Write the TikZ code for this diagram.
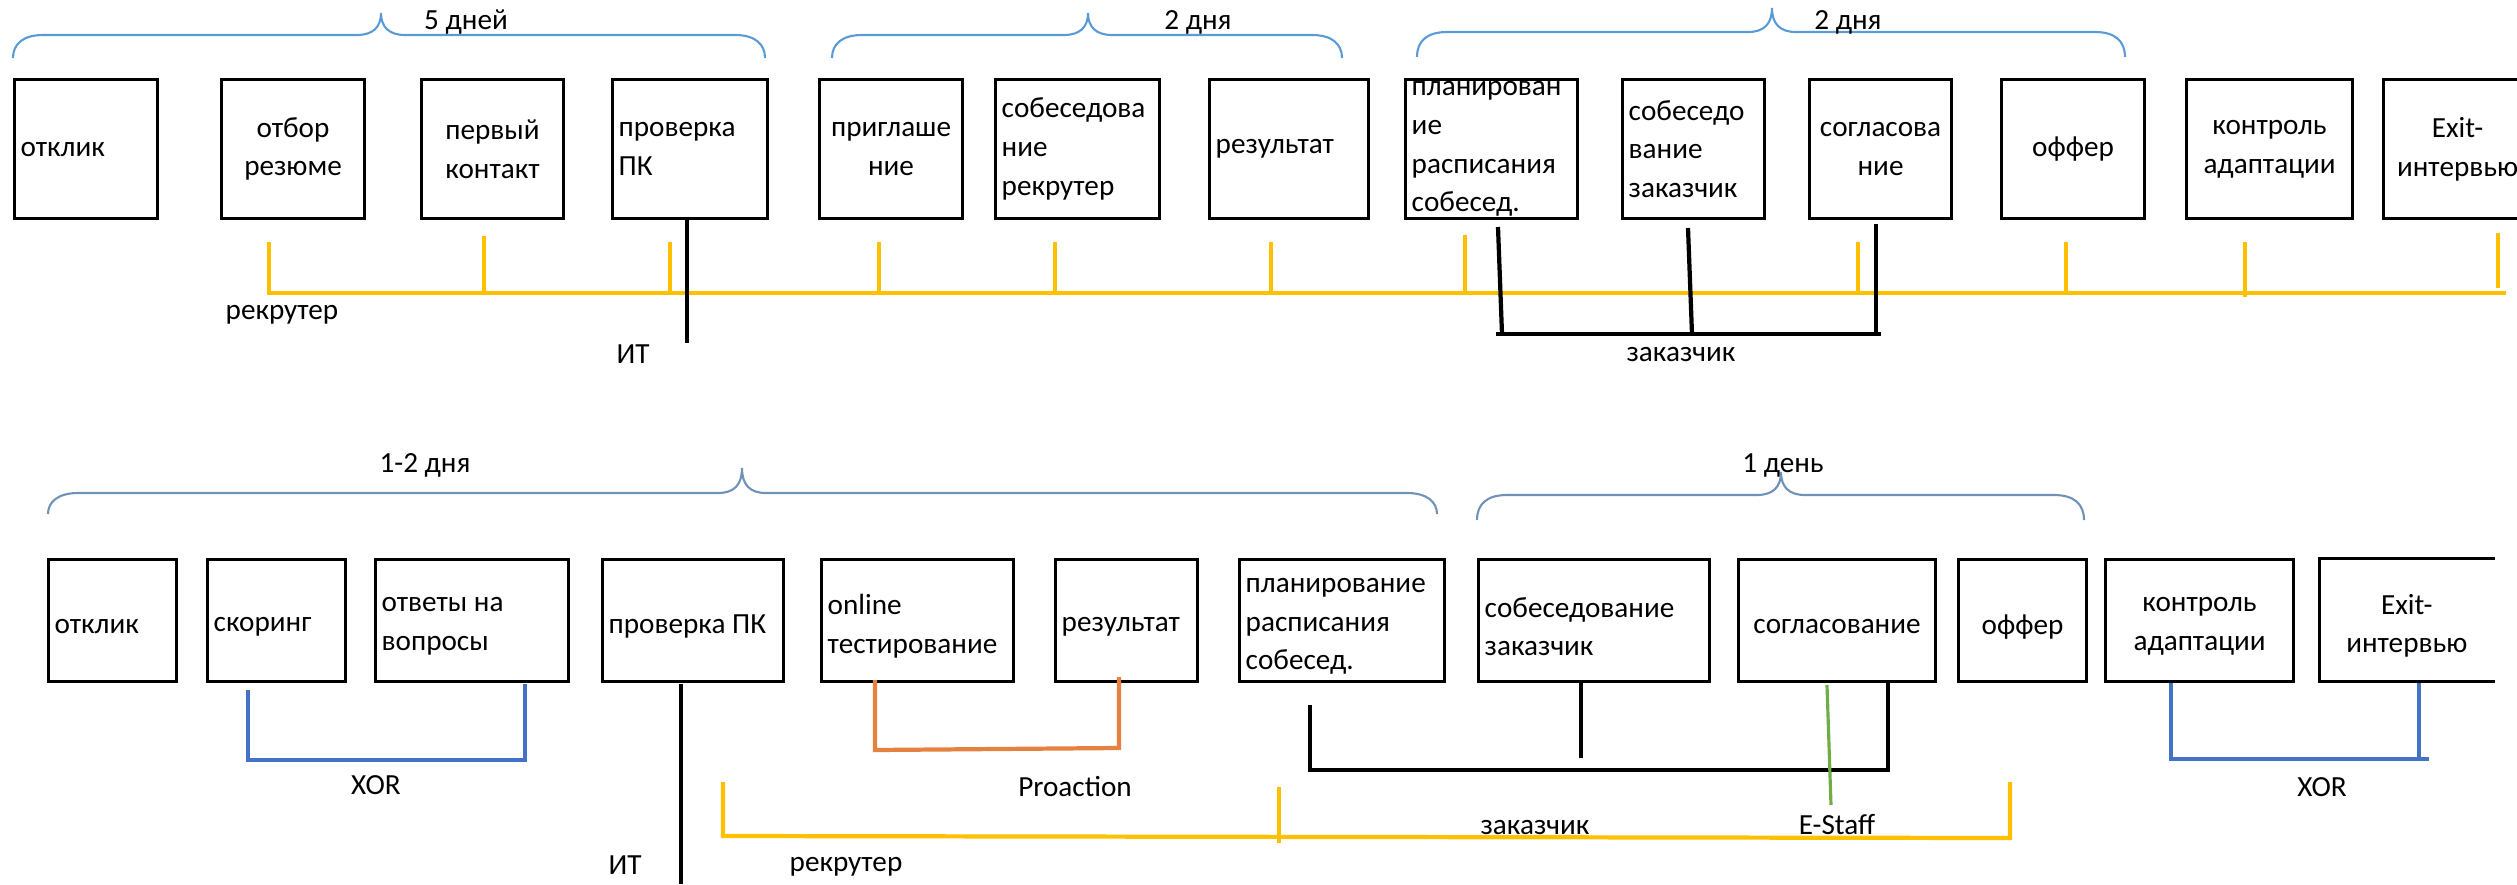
\documentclass[tikz,border=0pt]{standalone}
\usepackage{fontspec}
\setmainfont{Carlito}
\definecolor{gold}{HTML}{FFC000}
\definecolor{bracetop}{HTML}{5B9BD5}
\definecolor{bracebot}{HTML}{7092B8}
\definecolor{xorblue}{HTML}{4472C4}
\definecolor{orng}{HTML}{E5823F}
\definecolor{grn}{HTML}{70AD47}
\tikzset{
  boxst/.style={draw=black, line width=0.85pt, anchor=north west, inner sep=0pt},
  boxnod/.style={anchor=north west, inner sep=0pt},
  boxline/.style={draw=black, line width=0.85pt},
  txt/.style={font=\fontsize{8.3}{11}\selectfont, inner sep=0pt},
  tsh/.style={yshift=0cm},
  brtop/.style={draw=bracetop, line width=0.6pt},
  brbot/.style={draw=bracebot, line width=0.6pt},
  yel/.style={draw=gold, line width=1.2pt},
  blk/.style={draw=black, line width=1.2pt},
  xorl/.style={draw=xorblue, line width=1.2pt},
  orl/.style={draw=orng, line width=1.2pt},
  grl/.style={draw=grn, line width=0.9pt},
}
\newcommand\boxl[6]{%
  \node[boxst, minimum width=#4cm, minimum height=#5cm] (#1) at (#2,#3) {};
  \node[txt, tsh, anchor=west, align=left] (#1t) at ([xshift=0.07cm]#1.west) {#6};}
\newcommand\boxc[6]{%
  \node[boxst, minimum width=#4cm, minimum height=#5cm] (#1) at (#2,#3) {};
  \node[txt, tsh, align=center] (#1t) at (#1.center) {#6};}
% style, x1, x2, tip x, ytop, yline, yend
\newcommand\brc[7]{%
  \draw[#1] (#2,#7) .. controls (#2,#6+9) and (#2+10,#6) .. (#2+30,#6)
    -- (#4-24,#6) .. controls (#4-8,#6) and (#4,#6-8) .. (#4,#5)
    .. controls (#4,#6-8) and (#4+8,#6) .. (#4+24,#6)
    -- (#3-30,#6) .. controls (#3-10,#6) and (#3,#6+9) .. (#3,#7);}
\begin{document}
\begin{tikzpicture}[x=0.01cm, y=-0.01cm]
\useasboundingbox (0,0) rectangle (2517,884);
\clip (0,0) rectangle (2517,884);

% ---------------- top row ----------------
\brc{brtop}{13}{765}{381}{13}{35}{58}
\brc{brtop}{832}{1342}{1088}{13}{35}{58}
\brc{brtop}{1417}{2125}{1772}{8}{32}{57}
\node[txt] (d1) at (466,22) {5 дней};
\node[txt] (d2) at (1198,22) {2 дня};
\node[txt] (d3) at (1848,22) {2 дня};

\boxl{a1}{13}{78}{1.43}{1.39}{отклик}
\boxc{a2}{220}{78}{1.43}{1.39}{отбор\\резюме}
\boxc{a3}{420}{78}{1.42}{1.39}{первый\\контакт}
\boxl{a4}{611}{78}{1.55}{1.39}{проверка\\ПК}
\boxc{a5}{818}{78}{1.43}{1.39}{приглаше\\ние}
\boxl{a6}{994}{78}{1.64}{1.39}{собеседова\\ние\\рекрутер}
\boxl{a7}{1208}{78}{1.59}{1.39}{результат}
\boxl{a8}{1404}{78}{1.72}{1.39}{планирован\\ие\\расписания\\собесед.}
\boxl{a9}{1621}{78}{1.42}{1.39}{собеседо\\вание\\заказчик}
\boxc{a10}{1808}{78}{1.42}{1.39}{согласова\\ние}
\boxc{a11}{2000}{78}{1.43}{1.39}{оффер}
\boxc{a12}{2185}{78}{1.66}{1.39}{контроль\\адаптации}
\boxc{a13}{2382}{78}{1.48}{1.39}{Exit-\\интервью}

% recruiter line (top)
\draw[yel] (269,242) -- (269,293) -- (2506,293);
\foreach \xx/\yy in {484/236, 670/242, 879/242, 1055/242, 1271/242, 1465/235, 1858/242, 2066/242}
  \draw[yel] (\xx,\yy) -- (\xx,293);
\draw[yel] (2245,242) -- (2245,297);
\draw[yel] (2498,233) -- (2498,288);
\node[txt] (r1) at (282,315) {рекрутер};
% IT (top)
\draw[blk] (687,220) -- (687,343);
\node[txt] (it1) at (633,354) {ИТ};
% customer (top)
\draw[blk] (1498,227) -- (1502,334);
\draw[blk] (1688,228) -- (1692,334);
\draw[blk] (1876,224) -- (1876,334);
\draw[blk] (1496,334) -- (1881,334);
\node[txt] (z1) at (1681,355) {заказчик};

% ---------------- bottom row ----------------
\brc{brbot}{48}{1437}{742}{468}{493}{514}
\brc{brbot}{1477}{2084}{1781}{472}{495}{520}
\node[txt] (d4) at (425,465) {1-2 дня};
\node[txt] (d5) at (1783,465) {1 день};

\tikzset{tsh/.style={yshift=-0.06cm}}
\boxl{b1}{47}{558}{1.28}{1.22}{отклик}
\boxl{b2}{206}{558}{1.38}{1.22}{скоринг}
\boxl{b3}{374}{558}{1.93}{1.22}{ответы на\\вопросы}
\boxl{b4}{601}{558}{1.81}{1.22}{проверка ПК}
\boxl{b5}{820}{558}{1.92}{1.22}{online\\тестирование}
\boxl{b6}{1054}{558}{1.42}{1.22}{результат}
\boxl{b7}{1238}{558}{2.05}{1.22}{планирование\\расписания\\собесед.}
\boxl{b8}{1477}{558}{2.31}{1.22}{собеседование\\заказчик}
\boxc{b9}{1737}{558}{1.97}{1.22}{согласование}
\boxc{b10}{1957}{558}{1.28}{1.22}{оффер}
\boxc{b11}{2104}{558}{1.88}{1.22}{контроль\\адаптации}
\node[boxnod, minimum width=1.74cm, minimum height=1.22cm] (b12) at (2319,558) {};
\draw[boxline] (b12.north east) -- (b12.north west) -- (b12.south west) -- (b12.south east);
\node[txt, tsh, align=center] (b12t) at (b12.center) {Exit-\\интервью};

% XOR 1
\draw[xorl] (248,690) -- (248,760) -- (525,760) -- (525,684);
\node[txt] (x1) at (376,785) {XOR};
% IT (bottom)
\draw[blk] (681,684) -- (681,884);
\node[txt] (it2) at (625,865) {ИТ};
% Proaction
\draw[orl] (875,680) -- (875,750) -- (1119,748) -- (1119,677);
\node[txt] (pa) at (1075,787) {Proaction};
% recruiter (bottom)
\draw[yel] (723,782) -- (723,836) -- (2010,838) -- (2010,782);
\draw[yel] (1279,787) -- (1279,843);
\node[txt] (r2) at (846,867) {рекрутер};
% customer (bottom)
\draw[blk] (1310,705) -- (1310,770) -- (1888,770) -- (1888,680);
\draw[blk] (1581,680) -- (1581,758);
\node[txt] (z2) at (1535,828) {заказчик};
% E-Staff
\draw[grl] (1827,685) -- (1831,805);
\node[txt] (es) at (1837,825) {E-Staff};
% XOR 2
\draw[xorl] (2171,683) -- (2171,759) -- (2429,759);
\draw[xorl] (2419,683) -- (2419,759);
\node[txt] (x2) at (2322,787) {XOR};
\end{tikzpicture}
\end{document}
